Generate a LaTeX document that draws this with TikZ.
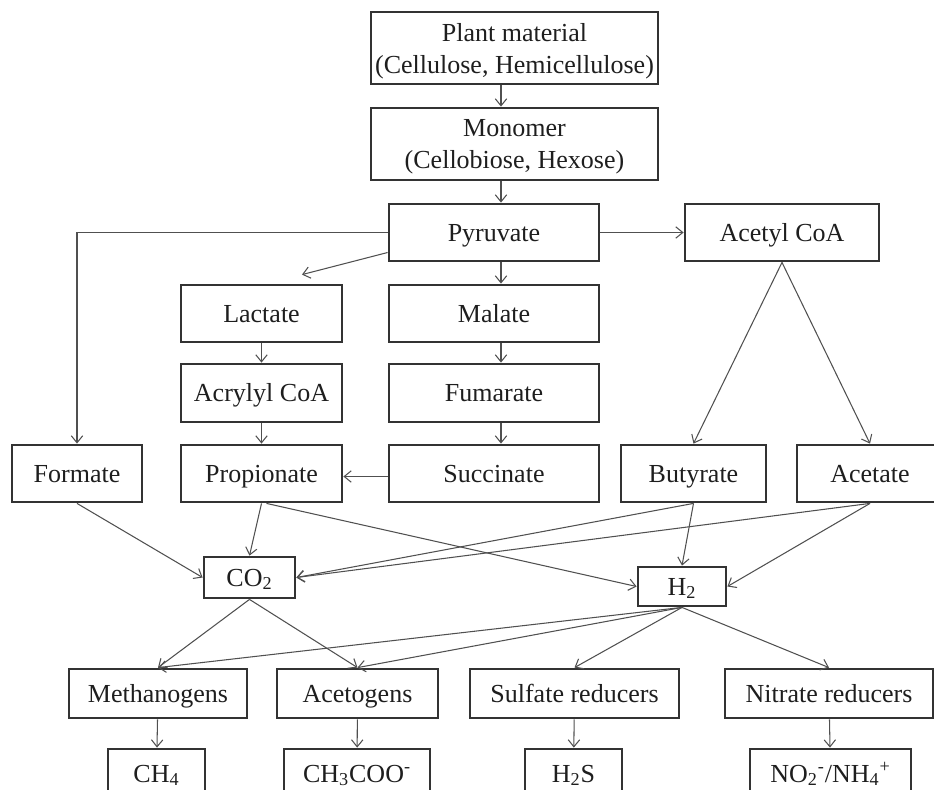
\documentclass[tikz,border=0pt]{standalone}
\usepackage{fontspec}
\setmainfont{Liberation Serif}
\usetikzlibrary{arrows.meta,positioning,calc}
\definecolor{boxgray}{HTML}{333333}
\definecolor{linkgray}{HTML}{505050}
\definecolor{txtgray}{HTML}{1E1E1E}

\begin{document}
\begin{tikzpicture}[x=0.02cm, y=-0.02cm,
		box/.style={draw=boxgray, line width=1.6pt, inner sep=0pt, align=center,
			text=txtgray, text depth=0pt, font=\fontsize{14.8}{18.2}\selectfont},
		one/.style={box, text height=9.8pt},
		link/.style={draw=linkgray, line width=0.6pt, ->},
		>={Straight Barb[length=4pt,width=6.5pt]}]
				\useasboundingbox (0,0) rectangle (934,789);
				\clip (0,0) rectangle (934,789);
				% sugars
				\node[box, minimum width=5.74cm, minimum height=1.44cm] (plant) at (514.5,48) {Plant material\\(Cellulose, Hemicellulose)};
				\node[box, minimum width=5.74cm, minimum height=1.44cm] (mono) at (514.5,144) {Monomer\\(Cellobiose, Hexose)};
				\node[one, minimum width=4.2cm, minimum height=1.14cm] (pyr) at (494,232.5) {Pyruvate};
				\node[one, minimum width=3.88cm, minimum height=1.14cm] (acoa) at (782,232.5) {Acetyl CoA};
				% propionate pathways
				\node[one, minimum width=3.22cm, minimum height=1.14cm] (lac) at (261.5,313.5) {Lactate};
				\node[one, minimum width=4.2cm, minimum height=1.14cm] (mal) at (494,313.5) {Malate};
				\node[one, minimum width=3.22cm, minimum height=1.16cm] (acr) at (261.5,393) {Acrylyl CoA};
				\node[one, minimum width=4.2cm, minimum height=1.16cm] (fum) at (494,393) {Fumarate};
				% end products
				\node[one, minimum width=2.6cm, minimum height=1.14cm] (form) at (77,473.5) {Formate};
				\node[one, minimum width=3.22cm, minimum height=1.14cm] (prop) at (261.5,473.5) {Propionate};
				\node[one, minimum width=4.2cm, minimum height=1.14cm] (succ) at (494,473.5) {Succinate};
				\node[one, minimum width=2.9cm, minimum height=1.14cm] (but) at (693.5,473.5) {Butyrate};
				\node[one, minimum width=2.92cm, minimum height=1.14cm] (acet) at (870,473.5) {Acetate};
				% gases
				\node[one, minimum width=1.82cm, minimum height=0.82cm] (co2) at (249.5,577.5) {CO\textsubscript{2}};
				\node[one, minimum width=1.76cm, minimum height=0.78cm] (h2) at (682,586.5) {H\textsubscript{2}};
				% microbes
				\node[one, minimum width=3.56cm, minimum height=0.98cm] (meth) at (158,693.5) {Methanogens};
				\node[one, minimum width=3.22cm, minimum height=0.98cm] (aceto) at (357.5,693.5) {Acetogens};
				\node[one, minimum width=4.18cm, minimum height=0.98cm] (sulf) at (574.5,693.5) {Sulfate reducers};
				\node[one, minimum width=4.16cm, minimum height=0.98cm] (nitr) at (829,693.5) {Nitrate reducers};
				\node[one, minimum width=1.94cm, minimum height=0.98cm] (ch4) at (156.5,773.5) {CH\textsubscript{4}};
				\node[one, minimum width=2.92cm, minimum height=0.98cm] (ch3coo) at (357,773.5) {CH\textsubscript{3}COO\textsuperscript{-}};
				\node[one, minimum width=1.94cm, minimum height=0.98cm] (h2s) at (573.5,773.5) {H\textsubscript{2}S};
				\node[one, minimum width=3.22cm, minimum height=0.98cm] (no2) at (830.5,773.5) {NO\textsubscript{2}\textsuperscript{-}/NH\textsubscript{4}\textsuperscript{+}};
				\coordinate (spine) at (501,0);
				% arrows
				\draw[link] (plant.south -| spine) -- (mono.north -| spine);
				\draw[link] (mono.south -| spine) -- (pyr.north -| spine);
				\draw[link] (pyr.east) -- (acoa.west);
				\draw[link] (pyr.west) -| (form.north);
				\draw[link] ([yshift=-0.4cm]pyr.west) -- ([xshift=0.81cm,yshift=0.18cm]lac.north);
				\draw[link] (pyr.south -| spine) -- (mal.north -| spine);
				\draw[link] (mal.south -| spine) -- (fum.north -| spine);
				\draw[link] (fum.south -| spine) -- (succ.north -| spine);
				\draw[link] (lac) -- (acr);
				\draw[link] (acr) -- (prop);
				\draw[link] ([yshift=-0.06cm]succ.west) -- ([yshift=-0.06cm]prop.east);
				\draw[link] (acoa.south) -- (but.north);
				\draw[link] (acoa.south) -- (acet.north);
				\draw[link] (form.south) -- (co2.west);
				\draw[link] (prop.south) -- (co2.north);
				\draw[link] ([xshift=0.1cm]prop.south) -- (h2.west);
				\draw[link] (but.south) -- (co2.east);
				\draw[link] (acet.south) -- (co2.east);
				\draw[link] (but.south) -- (h2.north);
				\draw[link] (acet.south) -- (h2.east);
				\draw[link] (co2.south) -- (meth.north);
				\draw[link] (co2.south) -- (aceto.north);
				\draw[link] (h2.south) -- (meth.north);
				\draw[link] (h2.south) -- (aceto.north);
				\draw[link] (h2.south) -- (sulf.north);
				\draw[link] (h2.south) -- (nitr.north);
				\draw[link] (meth) -- (ch4);
				\draw[link] (aceto) -- (ch3coo);
				\draw[link] (sulf) -- (h2s);
				\draw[link] (nitr) -- (no2);
			\end{tikzpicture}
\end{document}
